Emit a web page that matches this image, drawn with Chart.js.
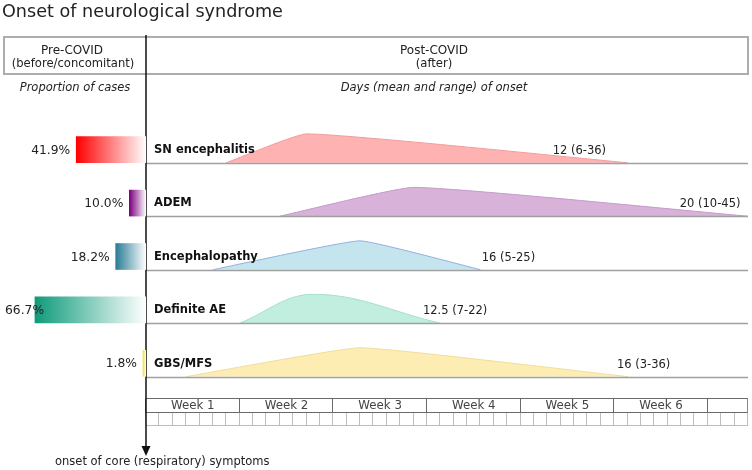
<!DOCTYPE html>
<html>
<head>
<meta charset="utf-8">
<script src="https://cdn.jsdelivr.net/npm/chart.js@4.4.1/dist/chart.umd.min.js"></script>
<style>
  html, body { margin: 0; padding: 0; background: #fff; }
  #wrap { position: relative; width: 752px; height: 470px; }
  canvas { position: absolute; top: 0; left: 0; }
</style>
</head>
<body>
<div id="wrap">
  <canvas id="onset" width="752" height="470"></canvas>
  <canvas id="share" width="146" height="470"></canvas>
</div>
<script>
// data
const syndromes = ["SN encephalitis", "ADEM", "Encephalopathy", "Definite AE", "GBS/MFS"];
const proportion = [41.9, 10.0, 18.2, 66.7, 1.8];   // % of cases with pre-COVID onset
const onsetMean = [12, 20, 16, 12.5, 16];            // days after COVID
const onsetMin = [6, 10, 5, 7, 3];
const onsetMax = [36, 45, 25, 22, 36];
const weekLabels = ["Week 1", "Week 2", "Week 3", "Week 4", "Week 5", "Week 6"];
const maxDay = 45;

// styling
const barColors = ["#ff0000", "#7d007d", "#2a7c94", "#0e9b7a", "#f2e233"];
const fillColors = ["#ffb2b2", "#d8b2d8", "#c4e4ee", "#c2eedf", "#fdedb2"];
const lineColors = ["#f39a9a", "#c49ccc", "#97afe0", "#a6e0cb", "#f3dc9c"];
const tensions = [0.12, 0.12, 0.1, 0.38, 0.1];
const peakHeight = 0.54;
const labelDays = [30.4, 39.9, 25.1, 20.7, 35.2];
const FONT = '"DejaVu Sans", Verdana, sans-serif';

function line(ctx, x1, y1, x2, y2) {
  ctx.beginPath();
  ctx.moveTo(x1, y1);
  ctx.lineTo(x2, y2);
  ctx.stroke();
}

const scaffold = {
  id: "scaffold",
  beforeDatasetsDraw(chart) {
    const ctx = chart.ctx;
    const mid = 434;
    ctx.save();
    ctx.fillStyle = "#222";
    ctx.textBaseline = "alphabetic";
    ctx.textAlign = "left";
    ctx.font = "17.6px " + FONT;
    ctx.fillText("Onset of neurological syndrome", 2, 16.7);

    // header box
    ctx.strokeStyle = "#adadad";
    ctx.lineWidth = 2;
    ctx.strokeRect(4, 37, 744, 37);

    ctx.textAlign = "center";
    ctx.font = "12px " + FONT;
    ctx.fillText("Pre-COVID", 72, 54);
    ctx.fillText("Post-COVID", mid, 54);
    ctx.font = "11.6px " + FONT;
    ctx.fillText("(before/concomitant)", 73, 66.5);
    ctx.fillText("(after)", mid, 66.5);

    ctx.font = "italic 11.5px " + FONT;
    ctx.fillText("Proportion of cases", 75, 91);
    ctx.fillText("Days (mean and range) of onset", mid, 91);
    ctx.restore();
  },
  afterDatasetsDraw(chart) {
    const ctx = chart.ctx;
    const a = chart.chartArea;
    const x = chart.scales.x;
    const y = chart.scales.y;
    ctx.save();

    syndromes.forEach((name, i) => {
      const base = syndromes.length - 1 - i;
      const py = Math.round(y.getPixelForValue(base)) + 0.5;
      ctx.strokeStyle = "#a0a0a0";
      ctx.lineWidth = 1.3;
      line(ctx, a.left, py, a.right, py);

      ctx.textAlign = "left";
      ctx.textBaseline = "alphabetic";
      ctx.fillStyle = "#111";
      ctx.font = "bold 11.5px " + FONT;
      ctx.fillText(name, a.left + 8, py - 10.5);

      ctx.fillStyle = "#222";
      ctx.font = "11.5px " + FONT;
      const txt = onsetMean[i] + " (" + onsetMin[i] + "-" + onsetMax[i] + ")";
      ctx.fillText(txt, x.getPixelForValue(labelDays[i]), py - 9.5);
    });

    // week / day grid
    const g0 = 398.5, g1 = 412.5, g2 = 425.5;
    ctx.strokeStyle = "#bdbdbd";
    ctx.lineWidth = 1;
    for (let d = 0; d <= maxDay; d++) {
      const px = Math.round(x.getPixelForValue(d)) - 0.5;
      line(ctx, px, g1, px, g2);
    }
    line(ctx, a.left, g2, a.right, g2);
    ctx.strokeStyle = "#6a6a6a";
    line(ctx, a.left, g0, a.right, g0);
    line(ctx, a.left, g1, a.right, g1);
    for (let w = 0; w <= weekLabels.length; w++) {
      const px = Math.round(x.getPixelForValue(w * 7)) - 0.5;
      line(ctx, px, g0, px, g1);
    }
    ctx.strokeStyle = "#8a8a8a";
    line(ctx, a.right - 0.5, g0, a.right - 0.5, g1);

    ctx.fillStyle = "#444";
    ctx.font = "11.8px " + FONT;
    ctx.textAlign = "center";
    weekLabels.forEach((t, w) => {
      ctx.fillText(t, x.getPixelForValue(w * 7 + 3.5), 409);
    });

    // time axis arrow
    const ax = x.getPixelForValue(0);
    ctx.strokeStyle = "#111";
    ctx.fillStyle = "#111";
    ctx.lineWidth = 1.5;
    line(ctx, ax, 35, ax, 447);
    ctx.beginPath();
    ctx.moveTo(ax - 4.5, 446);
    ctx.lineTo(ax + 4.5, 446);
    ctx.lineTo(ax, 456);
    ctx.closePath();
    ctx.fill();

    ctx.fillStyle = "#222";
    ctx.textAlign = "left";
    ctx.font = "11.5px " + FONT;
    ctx.fillText("onset of core (respiratory) symptoms", 55, 465);
    ctx.restore();
  }
};

const onsetSets = syndromes.map((name, i) => {
  const base = syndromes.length - 1 - i;
  return {
    label: name,
    data: [
      { x: onsetMin[i], y: base },
      { x: onsetMean[i], y: base + peakHeight },
      { x: onsetMax[i], y: base }
    ],
    fill: { value: base },
    backgroundColor: fillColors[i],
    borderColor: lineColors[i],
    borderWidth: 1,
    pointRadius: 0,
    tension: tensions[i]
  };
});

new Chart(document.getElementById("onset"), {
  type: "line",
  data: { datasets: onsetSets },
  options: {
    responsive: false,
    animation: false,
    layout: { padding: { top: 120, bottom: 72, left: 146, right: 4 } },
    scales: {
      x: { type: "linear", min: 0, max: maxDay, display: false },
      y: { type: "linear", min: -0.4, max: 4.8, display: false }
    },
    plugins: { legend: { display: false }, tooltip: { enabled: false } }
  },
  plugins: [scaffold]
});

const shareLabels = {
  id: "shareLabels",
  afterDatasetsDraw(chart) {
    const ctx = chart.ctx;
    const x = chart.scales.x;
    const meta = chart.getDatasetMeta(0);
    ctx.save();
    ctx.font = "12.3px " + FONT;
    ctx.fillStyle = "#222";
    ctx.textAlign = "right";
    ctx.textBaseline = "middle";
    meta.data.forEach((bar, i) => {
      const txt = proportion[i].toFixed(1) + "%";
      const w = ctx.measureText(txt).width;
      const left = x.getPixelForValue(proportion[i]);
      ctx.fillText(txt, Math.max(left - 6, 5 + w), bar.y + 1);
    });
    ctx.restore();
  }
};

new Chart(document.getElementById("share"), {
  type: "bar",
  data: {
    labels: syndromes,
    datasets: [{
      data: proportion,
      barThickness: 26,
      borderWidth: 0,
      backgroundColor: (c) => {
        const chart = c.chart;
        const col = barColors[c.dataIndex];
        if (!chart.chartArea || c.type !== "data") return col;
        const sx = chart.scales.x;
        const g = chart.ctx.createLinearGradient(sx.getPixelForValue(c.raw), 0, sx.getPixelForValue(0), 0);
        g.addColorStop(0, col);
        g.addColorStop(1, "#ffffff");
        return g;
      }
    }]
  },
  options: {
    indexAxis: "y",
    responsive: false,
    animation: false,
    layout: { padding: { top: 123, bottom: 80, left: 0, right: 0 } },
    scales: {
      x: { type: "linear", reverse: true, min: 0, max: 146 / 1.665, display: false },
      y: { display: false }
    },
    plugins: { legend: { display: false }, tooltip: { enabled: false } }
  },
  plugins: [shareLabels]
});
</script>
</body>
</html>
